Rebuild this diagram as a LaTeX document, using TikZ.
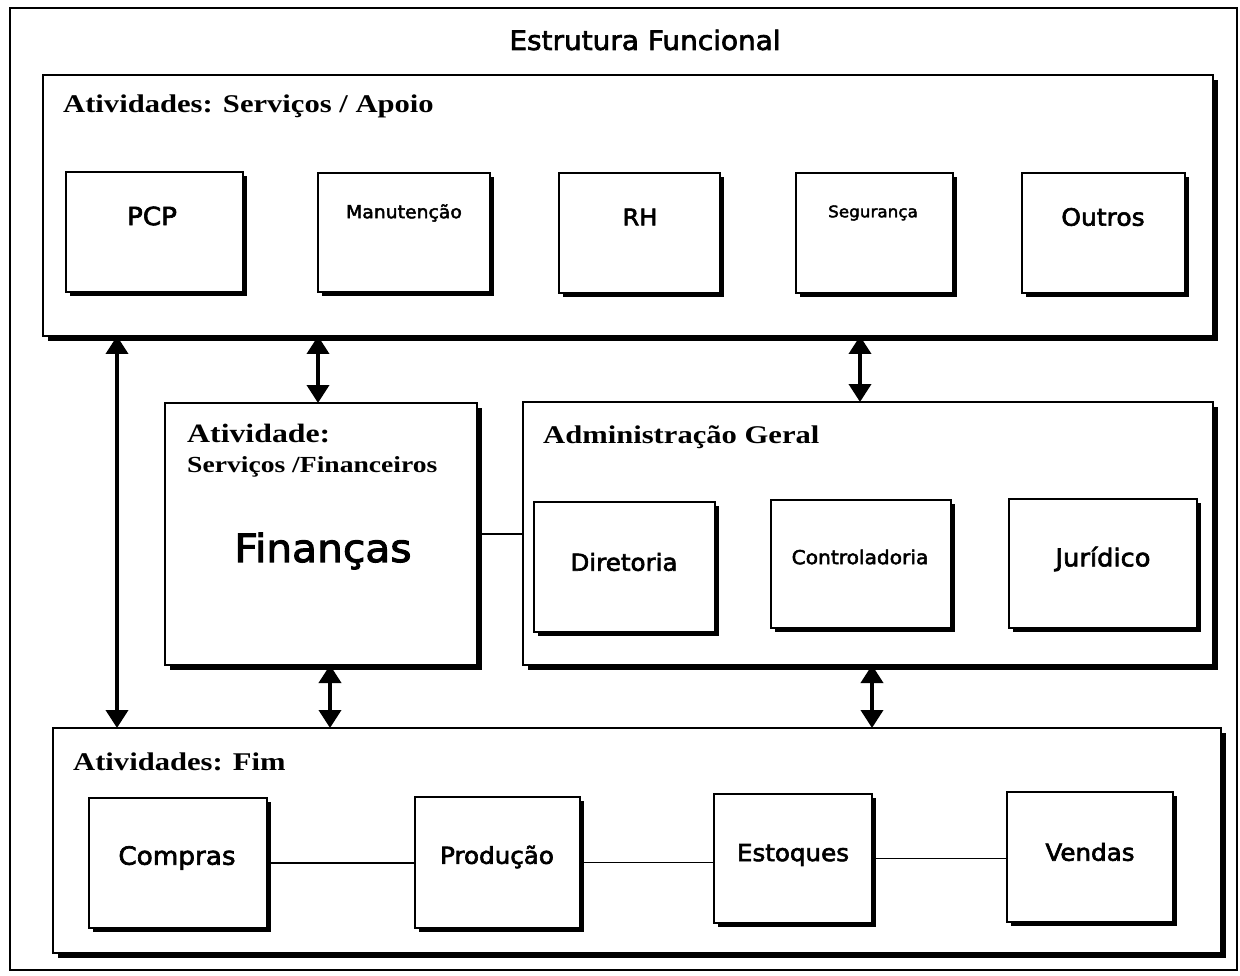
\documentclass[tikz,border=0pt]{standalone}
\usepackage{fontspec}
\setmainfont{Liberation Serif}[FakeStretch=1.2]
\newfontfamily\sansf{DejaVu Sans}[FakeStretch=1.05,FakeBold=2.6]
\usetikzlibrary{shadows,arrows.meta}
\newcommand\fsz[1]{\fontsize{#1pt}{#1pt}\selectfont}
\begin{document}
\begin{tikzpicture}[x=1pt,y=-1pt,
  frame/.style={draw,line width=1.4pt,anchor=north west,inner sep=0pt,outer sep=0pt},
  panel/.style={frame,fill=white,line width=1.6pt,
    drop shadow={shadow xshift=5pt,shadow yshift=-5pt,fill=black,opacity=1}},
  unit/.style={frame,fill=white,line width=1.5pt,
    drop shadow={shadow xshift=4pt,shadow yshift=-4pt,fill=black,opacity=1}},
  head/.style={anchor=base west,inner sep=0pt,font=\bfseries\fsz{25.5}},
  lbl/.style={inner sep=0pt,font=\sansf\fsz{23.4}},
  link/.style={line width=1.5pt},
  dbl/.style={line width=3.8pt,{Triangle[length=18pt,width=22pt]}-{Triangle[length=18pt,width=22pt]}}]
\useasboundingbox (0,0) rectangle (1240,976);
\fill[white] (0,0) rectangle (1240,976);

% outer frame and title
\node[frame,minimum width=1227pt,minimum height=962pt] (frame) at (10,8) {};
\node[lbl,font=\sansf\fsz{26.6}] (title) at (645,40) {Estrutura Funcional};

% support activities
\node[panel,minimum width=1170pt,minimum height=261pt] (top) at (43,75) {};
\node[head] (topT) at (63,113) {Atividades: Serviços / Apoio};
\node[unit,minimum width=177pt,minimum height=120pt] (pcp) at (66,172) {};
\node[unit,minimum width=172pt,minimum height=119pt] (man) at (318,173) {};
\node[unit,minimum width=161pt,minimum height=120pt] (rh) at (559,173) {};
\node[unit,minimum width=157pt,minimum height=120pt] (seg) at (796,173) {};
\node[unit,minimum width=163pt,minimum height=120pt] (out) at (1022,173) {};
\node[lbl,font=\sansf\fsz{25}] (pcpT) at (152,216) {PCP};
\node[lbl,font=\sansf\fsz{17.9}] (manT) at (404,213) {Manutenção};
\node[lbl,font=\sansf\fsz{23}] (rhT) at (640,217) {RH};
\node[lbl,font=\sansf\fsz{16}] (segT) at (873,213) {Segurança};
\node[lbl,font=\sansf\fsz{23.8}] (outT) at (1103,217) {Outros};

% finance
\node[panel,minimum width=312pt,minimum height=262pt] (fin) at (165,403) {};
\node[head,font=\bfseries\fsz{26.5}] (finT1) at (187,442) {Atividade:};
\node[head,font=\bfseries\fsz{23}] (finT2) at (187,472) {Serviços /Financeiros};
\node[lbl,font=\sansf\fsz{38.8}] (finT) at (323,551) {Finanças};

% general administration
\node[panel,minimum width=690pt,minimum height=263pt] (adm) at (523,402) {};
\node[head] (admT) at (543,443) {Administração Geral};
\node[unit,minimum width=181pt,minimum height=130pt] (dir) at (534,502) {};
\node[unit,minimum width=180pt,minimum height=128pt] (ctl) at (771,500) {};
\node[unit,minimum width=188pt,minimum height=129pt] (jur) at (1009,499) {};
\node[lbl] (dirT) at (624,562) {Diretoria};
\node[lbl,font=\sansf\fsz{19.2}] (ctlT) at (860,557) {Controladoria};
\node[lbl,font=\sansf\fsz{24.5}] (jurT) at (1103,559) {Jurídico};

% core activities
\node[panel,minimum width=1168pt,minimum height=225pt] (fim) at (53,728) {};
\node[head] (fimT) at (73,770) {Atividades: Fim};
\node[unit,minimum width=178pt,minimum height=130pt] (com) at (89,798) {};
\node[unit,minimum width=165pt,minimum height=131pt] (pro) at (415,797) {};
\node[unit,minimum width=158pt,minimum height=129pt] (est) at (714,794) {};
\node[unit,minimum width=166pt,minimum height=130pt] (ven) at (1007,792) {};
\node[lbl,font=\sansf\fsz{25}] (comT) at (177,858) {Compras};
\node[lbl] (proT) at (497,857) {Produção};
\node[lbl] (estT) at (793,855) {Estoques};
\node[lbl] (venT) at (1090,852) {Vendas};

% plain links
\draw[link] (fin.east) -- (fin.east -| adm.west);
\draw[link] (com.east) -- (com.east -| pro.west);
\draw[link] (pro.east) -- (pro.east -| est.west);
\draw[link] (est.east) -- (est.east -| ven.west);

% two-way flows
\coordinate (c1) at (117,0);
\coordinate (c2) at (318,0);
\coordinate (c3) at (860,0);
\coordinate (c4) at (330,0);
\coordinate (c5) at (872,0);
\draw[dbl] (top.south -| c1) -- (fim.north -| c1);
\draw[dbl] (top.south -| c2) -- (fin.north -| c2);
\draw[dbl] (top.south -| c3) -- (adm.north -| c3);
\draw[dbl] (fin.south -| c4) -- (fim.north -| c4);
\draw[dbl] (adm.south -| c5) -- (fim.north -| c5);
\end{tikzpicture}
\end{document}
